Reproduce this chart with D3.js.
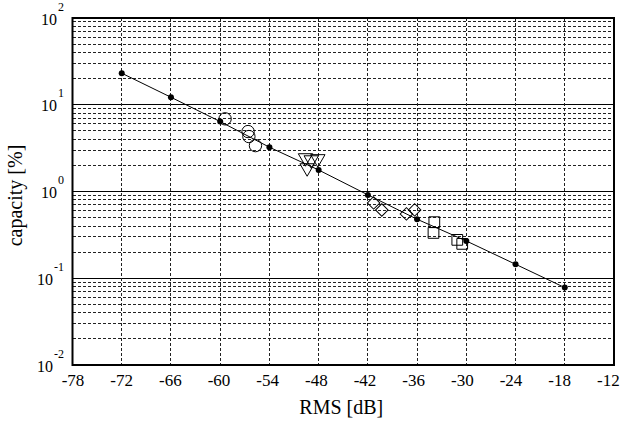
<!DOCTYPE html>
<html>
<head>
<meta charset="utf-8">
<script src="https://cdn.jsdelivr.net/npm/d3@7"></script>
<style>
  body { margin: 0; background: #fff; }
</style>
</head>
<body>
<div id="chart"></div>
<script>
// fitted line with filled dots
const lineX = [-72, -66, -60, -54, -48, -42, -36, -30, -24, -18];
const lineY = [23.1, 12.2, 6.4, 3.24, 1.77, 0.914, 0.479, 0.269, 0.145, 0.078];

// open markers, one group per shape
const circX = [-59.4, -56.6, -56.5, -55.7];
const circY = [6.88, 4.91, 4.3, 3.38];
const triX = [-49.6, -48.9, -48.1, -49.4];
const triY = [2.44, 2.31, 2.38, 1.87];
const diaX = [-41.3, -40.3, -37.3, -36.3];
const diaY = [0.739, 0.613, 0.552, 0.614];
const sqX = [-33.9, -34.0, -31.1, -30.5];
const sqY = [0.443, 0.333, 0.277, 0.249];

const xTicks = [-78, -72, -66, -60, -54, -48, -42, -36, -30, -24, -18, -12];
const yDecades = [-2, -1, 0, 1, 2];

const FONT = "Liberation Serif";
const W = 623, H = 425;
const margin = { top: 18, right: 9, bottom: 60, left: 72.5 };
const width = W - margin.left - margin.right;
const height = H - margin.top - margin.bottom;

const svg = d3.select("#chart").append("svg")
  .attr("width", W).attr("height", H)
  .append("g")
  .attr("transform", `translate(${margin.left},${margin.top})`);

const x = d3.scaleLinear().domain([-78, -12]).range([0, width]);
const y = d3.scaleLog().domain([0.01, 100]).range([height, 0]);
// the tick labels sit on a slightly narrower span than the grid
const xLab = d3.scaleLinear().domain([-78, -12]).range([0, width * 0.9886]);

// minor grid (2..9 in each decade)
const minor = [];
for (let e = -2; e < 2; e++) for (let m = 2; m <= 9; m++) minor.push(m * Math.pow(10, e));

svg.append("g").selectAll("line").data(minor).join("line")
  .attr("x1", 0).attr("x2", width)
  .attr("y1", d => y(d)).attr("y2", d => y(d))
  .attr("stroke", "#222").attr("stroke-width", 1)
  .attr("stroke-dasharray", "3,2")
  .attr("shape-rendering", "crispEdges");

// major decade lines
svg.append("g").selectAll("line").data(yDecades.slice(1, -1)).join("line")
  .attr("x1", 0).attr("x2", width)
  .attr("y1", d => y(Math.pow(10, d))).attr("y2", d => y(Math.pow(10, d)))
  .attr("stroke", "#000").attr("stroke-width", 1)
  .attr("shape-rendering", "crispEdges");

// vertical grid
svg.append("g").selectAll("line").data(xTicks.slice(1, -1)).join("line")
  .attr("x1", d => x(d)).attr("x2", d => x(d))
  .attr("y1", 0).attr("y2", height)
  .attr("stroke", "#222").attr("stroke-width", 1)
  .attr("stroke-dasharray", "3,2")
  .attr("shape-rendering", "crispEdges");

// x axis labels
const xAxis = svg.append("g")
  .attr("transform", `translate(0,${height})`)
  .call(d3.axisBottom(x).tickValues(xTicks).tickSize(0).tickFormat(d => d));
xAxis.attr("font-family", FONT).attr("font-size", 17);
xAxis.select(".domain").remove();
xAxis.selectAll(".tick text")
  .attr("y", 21).attr("dy", 0)
  .attr("x", d => xLab(d) - x(d))
  .attr("fill", "#000");

// y axis labels: 10 with superscript exponent
const yAxis = svg.append("g")
  .call(d3.axisLeft(y).tickValues(yDecades.map(e => Math.pow(10, e))).tickSize(0).tickPadding(0).tickFormat(""));
yAxis.attr("font-family", FONT).attr("font-size", 16);
yAxis.select(".domain").remove();
yAxis.selectAll(".tick text").each(function (d) {
  const t = d3.select(this)
    .attr("x", -8.5).attr("dy", "0.38em")
    .attr("text-anchor", "end").attr("fill", "#000");
  t.text(null);
  t.append("tspan").text("10");
  t.append("tspan").attr("dy", -14).attr("dx", 1).attr("font-size", 12)
    .text(Math.round(Math.log10(d)));
});

// fitted line
const pts = lineX.map((v, i) => [v, lineY[i]]);
svg.append("path")
  .datum(pts)
  .attr("fill", "none").attr("stroke", "#000").attr("stroke-width", 1)
  .attr("d", d3.line().x(d => x(d[0])).y(d => y(d[1])));

svg.append("g").selectAll("circle").data(pts).join("circle")
  .attr("cx", d => x(d[0])).attr("cy", d => y(d[1]))
  .attr("r", 3).attr("fill", "#000");

// open markers
const sym = (type, size, xs, ys, rot) => {
  svg.append("g").selectAll("path").data(xs.map((v, i) => [v, ys[i]])).join("path")
    .attr("d", d3.symbol().type(type).size(size))
    .attr("transform", d => `translate(${x(d[0])},${y(d[1])}) rotate(${rot})`)
    .attr("fill", "none").attr("stroke", "#000").attr("stroke-width", 1);
};
sym(d3.symbolCircle, 120, circX, circY, 0);
sym(d3.symbolTriangle, 90, triX, triY, 180);
sym(d3.symbolSquare, 78, diaX, diaY, 45);
sym(d3.symbolSquare, 115, sqX, sqY, 0);

// frame
svg.append("rect")
  .attr("width", width).attr("height", height)
  .attr("fill", "none").attr("stroke", "#000").attr("stroke-width", 2);

// axis titles
svg.append("text")
  .attr("x", width / 2 - 2).attr("y", height + 49)
  .attr("text-anchor", "middle")
  .attr("font-family", FONT).attr("font-size", 20)
  .text("RMS [dB]");

svg.append("text")
  .attr("transform", `translate(${-margin.left + 22},${height / 2 + 4}) rotate(-90)`)
  .attr("text-anchor", "middle")
  .attr("font-family", FONT).attr("font-size", 20)
  .text("capacity [%]");
</script>
</body>
</html>
